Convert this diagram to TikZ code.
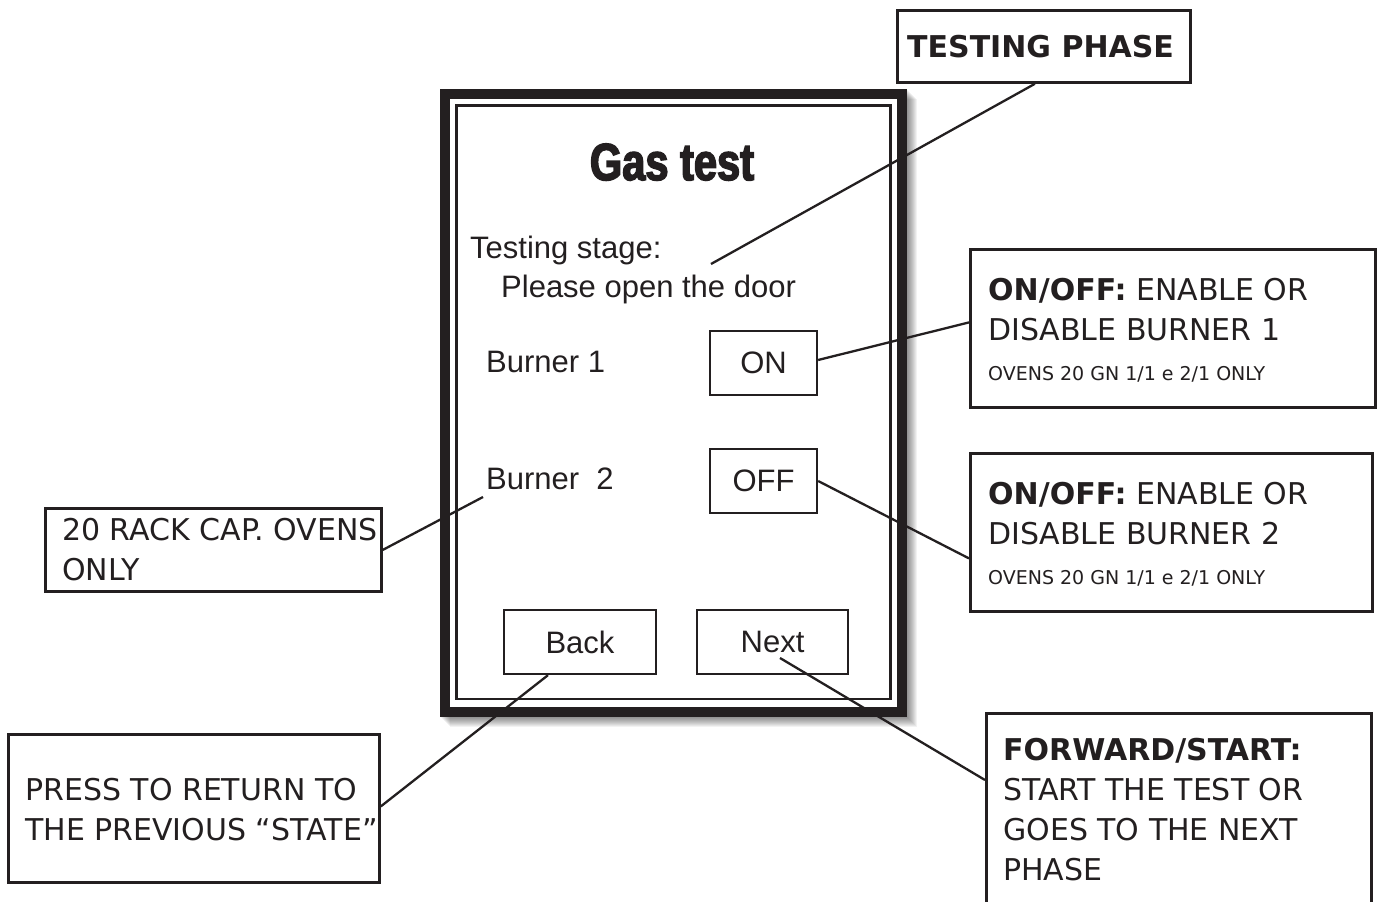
\documentclass[tikz,border=0pt]{standalone}
\usepackage{fontspec}
\setmainfont{DejaVu Sans}
\newfontfamily\annfont{DejaVu Sans}
\newfontfamily\scrfont{Liberation Sans}
\newfontfamily\gasfont{Liberation Sans}[BoldFeatures={FakeStretch=0.8,FakeBold=3}]
\usetikzlibrary{calc}
\definecolor{ink}{HTML}{231F20}
\tikzset{
  box/.style={draw=ink, line width=2.8pt, inner sep=0pt, anchor=north west},
  btn/.style={draw=ink, line width=2.3pt, inner sep=0pt, text=ink, font=\scrfont\fontsize{31}{36}\selectfont},
  ann/.style={anchor=base west, inner sep=0pt, text=ink, font=\annfont\fontsize{30}{36}\selectfont},
  smallann/.style={anchor=base west, inner sep=0pt, text=ink, font=\annfont\fontsize{19}{23}\selectfont},
  scr/.style={anchor=base west, inner sep=0pt, text=ink, font=\scrfont\fontsize{31}{36}\selectfont},
  conn/.style={draw=ink, line width=2.3pt}
}
\begin{document}
\begin{tikzpicture}[x=1pt, y=-1pt]
\useasboundingbox (0,0) rectangle (1379,902);
\clip (0,0) rectangle (1379,902);
\fill[white] (0,0) rectangle (1379,902);
% shadow of the screen frame
\foreach \i in {1,...,10} {
  \fill[black, opacity=0.05] (440+\i,89+\i) rectangle (907+\i,717+\i);
}
\fill[white] (440,89) rectangle (907,717);
% screen frame
\draw[ink, line width=10pt] (445,94) rectangle (902,712);
\draw[ink, line width=2.5pt] (456.5,105.5) rectangle (890.5,699);

% screen content
\node[anchor=base, inner sep=0pt, text=ink, font=\gasfont\bfseries\fontsize{52}{60}\selectfont] (title) at (672,180) {Gas test};
\node[scr] (stage) at (470,258) {Testing stage:};
\node[scr] (door) at (501,297) {Please open the door};
\node[scr] (b1) at (486,372) {Burner 1};
\node[scr] (b2) at (486,489) {Burner\ \ 2};
\node[btn, minimum width=107pt, minimum height=64pt] (onbtn) at (763.5,363) {ON};
\node[btn, minimum width=107pt, minimum height=64pt] (offbtn) at (763.5,481) {OFF};
\node[btn, minimum width=152pt, minimum height=64pt] (back) at (580,642) {Back};
\node[btn, minimum width=151pt, minimum height=64pt] (next) at (772.5,642) {Next};

% annotation boxes
\node[box, minimum width=293pt, minimum height=72pt] (tp) at (896,9) {};
\node[anchor=base west, inner sep=0pt, text=ink, font=\annfont\bfseries\fontsize{30}{36}\selectfont] (tpt) at (907,57) {TESTING PHASE};

\node[box, minimum width=405pt, minimum height=158pt] (box1) at (969,248) {};
\node[ann] (box1a) at (988,300) {\textbf{ON/OFF:} ENABLE OR};
\node[ann] (box1b) at (988,340) {DISABLE BURNER 1};
\node[smallann] (box1c) at (988,380) {OVENS 20 GN 1/1 e 2/1 ONLY};

\node[box, minimum width=402pt, minimum height=158pt] (box2) at (969,452) {};
\node[ann] (box2a) at (988,504) {\textbf{ON/OFF:} ENABLE OR};
\node[ann] (box2b) at (988,544) {DISABLE BURNER 2};
\node[smallann] (box2c) at (988,584) {OVENS 20 GN 1/1 e 2/1 ONLY};

\node[box, minimum width=336pt, minimum height=83pt] (rack) at (44,507) {};
\node[ann] (racka) at (62,540) {20 RACK CAP. OVENS};
\node[ann] (rackb) at (62,580) {ONLY};

\node[box, minimum width=371pt, minimum height=148pt] (press) at (7,733) {};
\node[ann] (pressa) at (25,800) {PRESS TO RETURN TO};
\node[ann] (pressb) at (25,840) {THE PREVIOUS “STATE”};

\node[box, minimum width=385pt, minimum height=240pt] (fwd) at (985,712) {};
\node[ann] (fwda) at (1003,760) {\textbf{FORWARD/START:}};
\node[ann] (fwdb) at (1003,800) {START THE TEST OR};
\node[ann] (fwdc) at (1003,840) {GOES TO THE NEXT};
\node[ann] (fwdd) at (1003,880) {PHASE};

% connector end points
\coordinate (doorpt) at (711,264);
\coordinate (b2pt) at (483,497);
\coordinate (nextpt) at (780,658);

% connectors
\draw[conn] ([xshift=-9pt]tp.south) -- (doorpt);
\draw[conn] ([yshift=3pt]onbtn.east) -- ([yshift=6pt]box1.west);
\draw[conn] (offbtn.east) -- ([yshift=-26pt]box2.west);
\draw[conn] (rack.east) -- (b2pt);
\draw[conn] ([xshift=-32pt]back.south) -- ([yshift=2pt]press.east);
\draw[conn] (nextpt) -- ([yshift=-68pt]fwd.north west);
\end{tikzpicture}
\end{document}
